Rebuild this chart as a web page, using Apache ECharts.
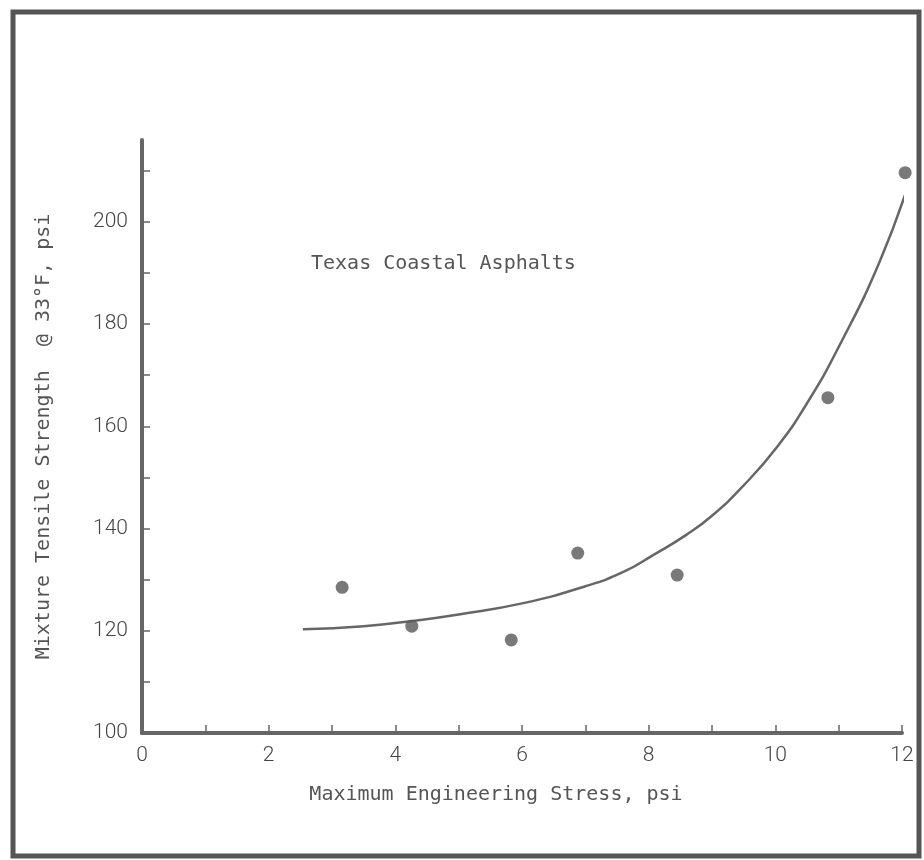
<!DOCTYPE html>
<html>
<head>
<meta charset="utf-8">
<script src="https://cdn.jsdelivr.net/npm/echarts@6/dist/echarts.min.js"></script>
<style>html,body{margin:0;padding:0;background:#fff}#c{width:924px;height:860px}</style>
</head>
<body>
<div id="c"></div>
<script>
// Measured points: [stress, strength]
var pointX = [3.16, 4.26, 5.83, 6.88, 8.45, 10.83, 12.05];
var pointY = [128.5, 120.9, 118.2, 135.2, 130.9, 165.6, 209.6];
// Fitted curve
var curveX = [2.54, 3.5, 4.26, 5.0, 6.02, 7.0, 7.6, 8.07, 8.6, 9.0, 9.49, 10.03, 10.5, 11.0, 11.65, 12.13];
var curveY = [120.3, 120.9, 121.9, 123.2, 125.4, 128.7, 131.5, 134.8, 138.8, 142.5, 148.3, 156.0, 164.5, 175.5, 192.3, 208.4];
var xTicks = [1,2,3,4,5,6,7,8,9,10,11,12];
var xLabels = [0,2,4,6,8,10,12];
var yTicks = [110,120,130,140,150,160,170,180,190,200,210];
var yLabels = [100,120,140,160,180,200];

var points = pointX.map(function(x,i){return [x, pointY[i]];});
var curve = curveX.map(function(x,i){return [x, curveY[i]];});

var chart = echarts.init(document.getElementById('c'), null, {renderer:'canvas'});
var mono = '"DejaVu Sans Mono", monospace';
var axisColor = '#666';
chart.setOption({
  animation: false,
  backgroundColor: '#fff',
  title: {
    text: 'Texas Coastal Asphalts',
    left: 306, top: 249,
    textStyle: {fontFamily: mono, fontSize: 20, fontWeight: 'normal', color: '#555'}
  },
  grid: {left: 142, right: 22, top: 140, bottom: 127, containLabel: false},
  xAxis: {
    type: 'value', min: 0, max: 12,
    name: 'Maximum Engineering Stress, psi',
    nameLocation: 'middle', nameGap: 52,
    nameTextStyle: {fontFamily: mono, fontSize: 20, color: '#555', padding: [0, 52, 0, 0]},
    axisLine: {show: true, lineStyle: {color: axisColor, width: 4}},
    axisTick: {show: true, inside: true, length: 8, customValues: xTicks, lineStyle: {color: axisColor, width: 1.5}},
    axisLabel: {customValues: xLabels, margin: 12, fontFamily: 'Roboto', fontWeight: 300, fontSize: 21, color: '#444'},
    splitLine: {show: false}
  },
  yAxis: {
    type: 'value', min: 100, max: 216,
    name: 'Mixture Tensile Strength  @ 33°F, psi',
    nameLocation: 'middle', nameGap: 88, nameRotate: 90,
    nameTextStyle: {fontFamily: mono, fontSize: 20, color: '#555'},
    axisLine: {show: true, lineStyle: {color: axisColor, width: 4}},
    axisTick: {show: true, inside: true, length: 8, customValues: yTicks, lineStyle: {color: axisColor, width: 1.5}},
    axisLabel: {customValues: yLabels, margin: 14, fontFamily: 'Roboto', fontWeight: 300, fontSize: 21, color: '#444'},
    splitLine: {show: false}
  },
  graphic: [{
    type: 'rect', shape: {x: 13, y: 12, width: 906, height: 844},
    style: {fill: 'none', stroke: '#555', lineWidth: 5}, z: 100
  }],
  series: [
    {
      type: 'line', data: curve, smooth: 0.5, showSymbol: false, clip: false,
      lineStyle: {color: '#666', width: 2.5}, z: 2
    },
    {
      type: 'scatter', data: points, symbolSize: 13, clip: false,
      itemStyle: {color: '#585858'}, z: 3
    }
  ]
});
</script>
</body>
</html>
